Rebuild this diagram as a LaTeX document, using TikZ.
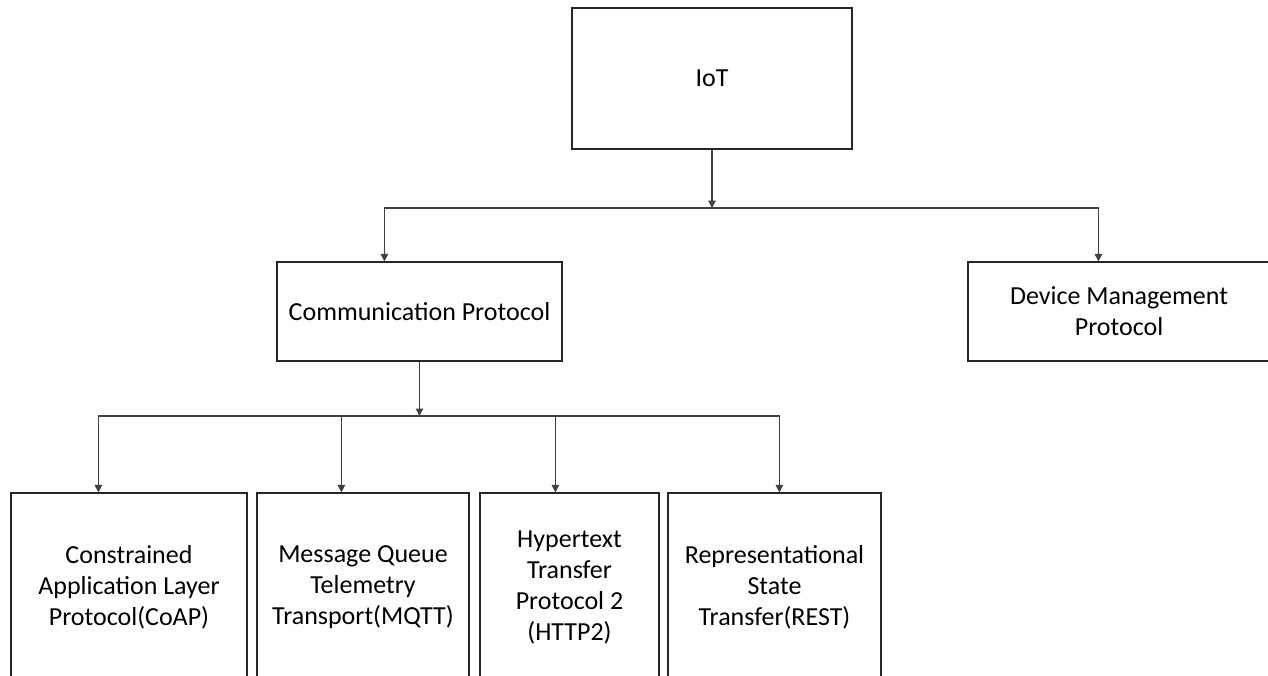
\documentclass[tikz,border=0pt]{standalone}
\usepackage{fontspec}
\setmainfont{Carlito}
\usetikzlibrary{arrows.meta}
\begin{document}
\begin{tikzpicture}[x=1pt,y=-1pt,
  box/.style={draw=black!85,line width=1.2pt,rectangle,inner sep=0pt,align=center,
    font=\fontsize{26}{31}\selectfont},
  conn/.style={draw=black!75,line width=1.2pt},
  arr/.style={conn,-{Triangle[width=7.5pt,length=7.5pt]}}]
\useasboundingbox (0,0) rectangle (1268,675);
\clip (0,0) rectangle (1268,675);
\node[box,minimum width=280pt,minimum height=141pt] (iot) at (712,78.5) {IoT};
\node[box,minimum width=285pt,minimum height=99pt] (comm) at (419.5,311.5) {Communication Protocol};
\node[box,minimum width=302pt,minimum height=99pt] (dev) at (1119,311.5) {Device Management\\Protocol};
\node[box,minimum width=236pt,minimum height=189pt] (b1) at (129,587.5) {Constrained\\Application Layer\\Protocol(CoAP)};
\node[box,minimum width=212pt,minimum height=189pt] (b2) at (363,587.5) {Message Queue\\Telemetry\\Transport(MQTT)};
\node[box,minimum width=179pt,minimum height=189pt] (b3) at (569.5,587.5) {Hypertext\\Transfer\\Protocol 2\\(HTTP2)};
\node[box,minimum width=213pt,minimum height=189pt] (b4) at (774.5,587.5) {Representational\\State\\Transfer(REST)};
\coordinate (j1) at (712,208);
\coordinate (j2) at (419.5,416);
\draw[arr] (iot) -- (j1);
\draw[arr] (j1) -| ([xshift=108pt]comm.north west);
\draw[arr] (j1) -| ([xshift=131pt]dev.north west);
\draw[arr] (comm) -- (j2);
\draw[arr] (j2) -| ([xshift=88pt]b1.north west);
\draw[arr] (j2) -| ([xshift=85pt]b2.north west);
\draw[arr] (j2) -| ([xshift=76pt]b3.north west);
\draw[arr] (j2) -| ([xshift=112pt]b4.north west);
\end{tikzpicture}
\end{document}
